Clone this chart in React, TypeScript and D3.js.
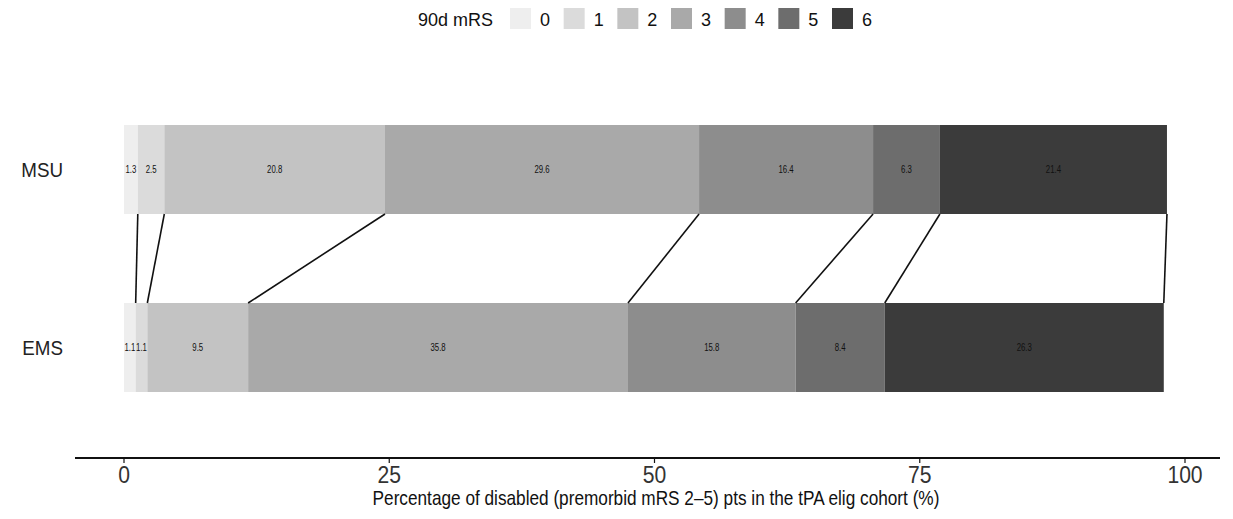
import { useEffect, useRef } from 'react';
import * as d3 from 'd3';

const groups = ['MSU', 'EMS'];
const levels = ['0', '1', '2', '3', '4', '5', '6'];
const msuValues = [1.3, 2.5, 20.8, 29.6, 16.4, 6.3, 21.4];
const emsValues = [1.1, 1.1, 9.5, 35.8, 15.8, 8.4, 26.3];
const xTicks = [0, 25, 50, 75, 100];
const fills = ['#eeeeee', '#dbdbdb', '#c3c3c3', '#a9a9a9', '#8d8d8d', '#6d6d6d', '#3b3b3b'];

export default function App() {
  const svgRef = useRef<SVGSVGElement>(null);

  useEffect(() => {
    const width = 1233;
    const height = 519;
    const svg = d3.select(svgRef.current);
    svg.selectAll('*').remove();
    svg.attr('width', width).attr('height', height);

    const font = '"Liberation Sans", Arial, Helvetica, sans-serif';

    const x = d3.scaleLinear().domain([0, 100]).range([124, 1185]);
    const y = d3.scaleBand().domain(groups).range([125, 392]).paddingInner(0.5);

    const valuesByGroup: Record<string, number[]> = { MSU: msuValues, EMS: emsValues };

    const stacked = groups.map(g => {
      const vals = valuesByGroup[g];
      let acc = 0;
      return vals.map((v, i) => {
        const s = { group: g, level: levels[i], value: v, x0: acc, x1: acc + v, i };
        acc += v;
        return s;
      });
    });

    // bars + value labels
    stacked.forEach(segs => {
      const g = svg.append('g');
      g.selectAll('rect')
        .data(segs)
        .enter()
        .append('rect')
        .attr('x', d => x(d.x0))
        .attr('width', d => x(d.x1) - x(d.x0))
        .attr('y', d => y(d.group)!)
        .attr('height', y.bandwidth())
        .attr('fill', d => fills[d.i]);

      g.selectAll('text')
        .data(segs)
        .enter()
        .append('text')
        .attr('transform', d => `translate(${(x(d.x0) + x(d.x1)) / 2},${y(d.group)! + y.bandwidth() / 2}) scale(0.78,1)`)
        .attr('dy', '0.35em')
        .attr('text-anchor', 'middle')
        .attr('font-family', font)
        .attr('font-size', 10)
        .attr('fill', '#111')
        .text(d => d.value.toFixed(1));
    });

    // lines joining the cumulative boundaries
    const top = stacked[0];
    const bottom = stacked[1];
    svg.append('g')
      .selectAll('line')
      .data(top.map((d, i) => ({ a: d.x1, b: bottom[i].x1 })))
      .enter()
      .append('line')
      .attr('x1', d => x(d.a))
      .attr('y1', y('MSU')! + y.bandwidth())
      .attr('x2', d => x(d.b))
      .attr('y2', y('EMS')!)
      .attr('stroke', '#111')
      .attr('stroke-width', 1.6);

    // group labels
    svg.append('g')
      .selectAll('text')
      .data(groups)
      .enter()
      .append('text')
      .attr('transform', d => `translate(63,${y(d)! + y.bandwidth() / 2}) scale(0.94,1)`)
      .attr('dy', '0.35em')
      .attr('text-anchor', 'end')
      .attr('font-family', font)
      .attr('font-size', 20)
      .attr('fill', '#222')
      .text(d => d);

    // x axis
    const axisY = 458;
    const axis = svg.append('g');
    axis.append('line')
      .attr('x1', 75).attr('x2', 1220)
      .attr('y1', axisY).attr('y2', axisY)
      .attr('stroke', '#111').attr('stroke-width', 2.2);
    axis.selectAll('line.tick')
      .data(xTicks)
      .enter()
      .append('line')
      .attr('class', 'tick')
      .attr('x1', d => x(d)).attr('x2', d => x(d))
      .attr('y1', axisY).attr('y2', axisY + 5)
      .attr('stroke', '#111').attr('stroke-width', 1.2);
    axis.selectAll('text')
      .data(xTicks)
      .enter()
      .append('text')
      .attr('text-anchor', 'middle')
      .attr('font-family', font)
      .attr('font-size', 24)
      .attr('fill', '#333')
      .attr('transform', d => `translate(${x(d)},483) scale(0.88,1)`)
      .text(d => d);

    svg.append('text')
      .attr('transform', 'translate(656,505) scale(0.82,1)')
      .attr('text-anchor', 'middle')
      .attr('font-family', font)
      .attr('font-size', 21)
      .attr('fill', '#111')
      .text('Percentage of disabled (premorbid mRS 2\u20135) pts in the tPA elig cohort (%)');

    // legend
    const legend = svg.append('g');
    legend.append('text')
      .attr('x', 418)
      .attr('y', 26)
      .attr('font-family', font)
      .attr('font-size', 18)
      .attr('fill', '#111')
      .text('90d mRS');
    const lx = d3.scaleLinear().domain([0, 6]).range([510, 832]);
    const items = legend.selectAll('g.item')
      .data(levels)
      .enter()
      .append('g')
      .attr('class', 'item');
    items.append('rect')
      .attr('x', (d, i) => lx(i))
      .attr('y', 6)
      .attr('width', 21)
      .attr('height', 23)
      .attr('fill', (d, i) => fills[i]);
    items.append('text')
      .attr('x', (d, i) => lx(i) + 35)
      .attr('y', 26)
      .attr('text-anchor', 'middle')
      .attr('font-family', font)
      .attr('font-size', 18)
      .attr('fill', '#111')
      .text(d => d);
  }, []);

  return <svg ref={svgRef} style={{ display: 'block', margin: -8 }}></svg>;
}
